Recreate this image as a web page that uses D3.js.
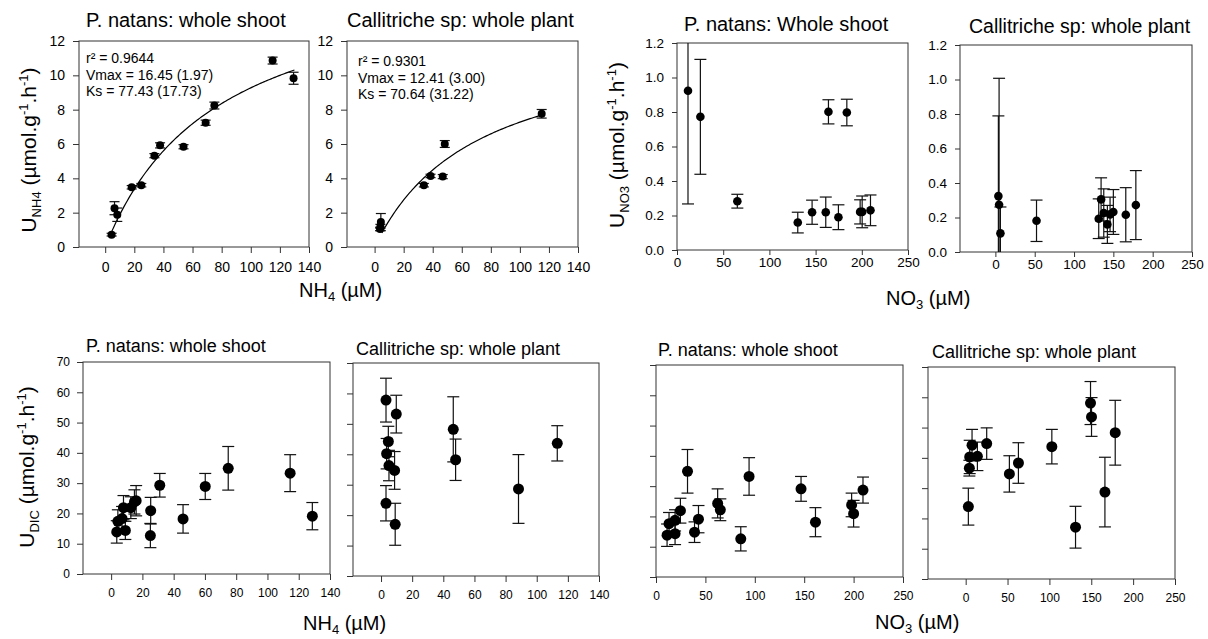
<!DOCTYPE html>
<html>
<head>
<meta charset="utf-8">
<script src="https://cdnjs.cloudflare.com/ajax/libs/d3/7.8.5/d3.min.js"></script>
<style>
body { margin: 0; background: #fff; }
svg text { font-family: Arial, "Liberation Sans", sans-serif; fill: #000; }
.axis path { display: none; }
.axis line { stroke: #333; }
</style>
</head>
<body>
<div id="chart"></div>
<script>
// NH4 uptake
var nh4PnX = [4.4, 6.4, 8.3, 18.2, 24.8, 33.8, 37.7, 53.8, 69, 75, 115, 129.4];
var nh4PnY = [0.72, 2.26, 1.88, 3.48, 3.6, 5.32, 5.92, 5.84, 7.24, 8.24, 10.86, 9.83];
var nh4PnErr = [0.08, 0.38, 0.39, 0.1, 0.1, 0.12, 0.15, 0.12, 0.15, 0.2, 0.2, 0.35];

var nh4CsX = [3.7, 4.0, 4.3, 33.9, 38.5, 46.9, 48.3, 115];
var nh4CsY = [1.05, 1.2, 1.45, 3.6, 4.14, 4.1, 6.0, 7.76];
var nh4CsErr = [0.1, 0.12, 0.5, 0.1, 0.1, 0.12, 0.2, 0.25];

// NO3 uptake
var no3PnX = [11.9, 25.3, 65.3, 130.7, 146.2, 161, 163.9, 174.7, 183.8, 198.2, 200.4, 209.4];
var no3PnY = [0.923, 0.772, 0.283, 0.159, 0.219, 0.219, 0.801, 0.19, 0.797, 0.221, 0.221, 0.23];
var no3PnErr = [0.656, 0.333, 0.04, 0.06, 0.07, 0.088, 0.07, 0.072, 0.077, 0.07, 0.092, 0.089];

var no3CsX = [3.8, 4.7, 6.4, 52.3, 131.4, 134.4, 137.8, 142.4, 145.8, 150, 165.8, 178.6];
var no3CsY = [0.324, 0.274, 0.108, 0.181, 0.193, 0.305, 0.226, 0.16, 0.218, 0.232, 0.216, 0.272];
var no3CsErr = [0.465, 0.733, 0.153, 0.12, 0.115, 0.125, 0.14, 0.11, 0.1, 0.13, 0.157, 0.2];

// DIC uptake vs NH4
var dicNh4PnX = [3.6, 4.3, 7.0, 7.9, 9.1, 12.6, 14.9, 16, 25.3, 25.1, 31.1, 46, 60.2, 74.9, 114.5, 128.7];
var dicNh4PnY = [13.9, 17.4, 18.3, 21.9, 14.4, 21.9, 23.8, 24.2, 20.9, 12.7, 29.3, 18.2, 28.9, 34.9, 33.3, 19.1];
var dicNh4PnErr = [3.7, 3.8, 4, 4, 3, 3.6, 4, 5, 4.4, 4, 3.9, 4.7, 4.3, 7.2, 6.1, 4.5];

var dicNh4CsX = [3.2, 9.8, 4.7, 3.6, 5.1, 8.7, 3.2, 9.1, 46.4, 47.9, 88.3, 113.2];
var dicNh4CsY = [57.8, 53.2, 44.2, 40.2, 36.3, 34.7, 23.9, 17, 48.2, 38.2, 28.6, 43.6];
var dicNh4CsErr = [7.2, 6.2, 5, 5, 5, 6.2, 5.8, 6.9, 10.7, 6.8, 11.3, 5.8];

// DIC uptake vs NO3
var dicNo3PnX = [11.2, 13.2, 19.3, 19.3, 24.7, 31.9, 39, 43, 62.4, 65.1, 85.8, 94.2, 146.8, 161.4, 198, 200, 209.5];
var dicNo3PnY = [13.8, 17.6, 14.3, 18.7, 21.9, 34.9, 14.8, 19.1, 24.3, 22.2, 12.6, 33.2, 29.1, 18.1, 23.8, 20.9, 28.7];
var dicNo3PnErr = [3.7, 3.7, 3.6, 3.5, 4.1, 7.2, 3.4, 4.5, 4.8, 3.6, 4, 6.2, 4.1, 4.8, 3.9, 4.4, 4.3];

var dicNo3CsX = [3.2, 4.4, 4.8, 7.6, 14, 25.1, 52.2, 63, 102.9, 131.2, 149.1, 150.3, 166.3, 178.6];
var dicNo3CsY = [23.9, 36.6, 40.3, 44.2, 40.5, 44.7, 34.7, 38.3, 43.7, 17.1, 58.1, 53.5, 28.7, 48.3];
var dicNo3CsErr = [6.1, 2.6, 5.5, 5.2, 4.7, 5.2, 6, 6.7, 5.7, 6.9, 7.1, 6.4, 11.5, 10.7];

// Michaelis-Menten fits as printed on the chart
var fitPn = {vmax: 16.45, ks: 77.43, from: 4, to: 130};
var fitCs = {vmax: 12.41, ks: 70.64, from: 5, to: 115};
var fitPnText = ["r\u00b2 = 0.9644", "Vmax = 16.45 (1.97)", "Ks = 77.43 (17.73)"];
var fitCsText = ["r\u00b2 = 0.9301", "Vmax = 12.41 (3.00)", "Ks = 70.64 (31.22)"];

var titles = ["P. natans: whole shoot", "Callitriche sp: whole plant", "P. natans: Whole shoot", "Callitriche sp: whole plant",
              "P. natans: whole shoot", "Callitriche sp: whole plant", "P. natans: whole shoot", "Callitriche sp: whole plant"];

var nh4Ticks = [0, 20, 40, 60, 80, 100, 120, 140];
var no3Ticks = [0, 50, 100, 150, 200, 250];
var uTicks = [0, 2, 4, 6, 8, 10, 12];
var no3UTicks = [0, 0.2, 0.4, 0.6, 0.8, 1.0, 1.2];
var dicTicks = [0, 10, 20, 30, 40, 50, 60, 70];

var svg = d3.select("#chart")
    .append("svg")
        .attr("width", 1208)
        .attr("height", 639);

var panels = [
  {x: nh4PnX, y: nh4PnY, e: nh4PnErr, box: [79, 309, 41, 247], xd: [-18, 140], yd: [0, 12], xt: nh4Ticks, yt: uTicks, fmt: d3.format("d"),
   fs: 14, tk: 6, xp: 9, yp: 8, r: 4, cap: 5, fit: fitPn, note: fitPnText, noteX: 86, noteY: 63, tx: 86, ty: 27, ts: 20},
  {x: nh4CsX, y: nh4CsY, e: nh4CsErr, box: [347, 578, 41, 247], xd: [-19, 140], yd: [0, 12], xt: nh4Ticks, yt: uTicks, fmt: d3.format("d"),
   fs: 14, tk: 6, xp: 9, yp: 8, r: 4, cap: 5, fit: fitCs, note: fitCsText, noteX: 358, noteY: 66, tx: 347, ty: 27, ts: 20},
  {x: no3PnX, y: no3PnY, e: no3PnErr, box: [677, 908, 43, 250], xd: [0, 250], yd: [0, 1.2], xt: no3Ticks, yt: no3UTicks, fmt: d3.format(".1f"),
   fs: 13.5, tk: 5, xp: 2, yp: 8, r: 4.3, cap: 6, tx: 684, ty: 31, ts: 20},
  {x: no3CsX, y: no3CsY, e: no3CsErr, box: [960, 1192, 45, 252], xd: [-45, 250], yd: [0, 1.2], xt: no3Ticks, yt: no3UTicks, fmt: d3.format(".1f"),
   fs: 13.5, tk: 5, xp: 2, yp: 8, r: 4.3, cap: 6, tx: 969, ty: 33, ts: 19.5},
  {x: dicNh4PnX, y: dicNh4PnY, e: dicNh4PnErr, box: [83, 330, 362, 574], xd: [-18, 140], yd: [0, 70], xt: nh4Ticks, yt: dicTicks, fmt: d3.format("d"),
   fs: 12, tk: 6, xp: 8, yp: 7, r: 5.5, cap: 6, tx: 86, ty: 352, ts: 18},
  {x: dicNh4CsX, y: dicNh4CsY, e: dicNh4CsErr, box: [353, 599, 363, 576], xd: [-18, 140], yd: [0, 70], xt: nh4Ticks, yt: dicTicks, fmt: null,
   fs: 12, tk: 6, xp: 8, yp: 7, r: 5.5, cap: 6, tx: 356, ty: 355, ts: 18},
  {x: dicNo3PnX, y: dicNo3PnY, e: dicNo3PnErr, box: [656, 903, 365, 577], xd: [0, 250], yd: [0, 70], xt: no3Ticks, yt: dicTicks, fmt: null,
   fs: 12, tk: 6, xp: 8, yp: 7, r: 5.5, cap: 6, tx: 658, ty: 356, ts: 18},
  {x: dicNo3CsX, y: dicNo3CsY, e: dicNo3CsErr, box: [928, 1175, 367, 579], xd: [-45, 250], yd: [0, 70], xt: no3Ticks, yt: dicTicks, fmt: null,
   fs: 12, tk: 6, xp: 8, yp: 7, r: 5.5, cap: 6, tx: 932, ty: 358, ts: 18}
];

panels.forEach(function(p, i) {
    var l = p.box[0], rgt = p.box[1], t = p.box[2], b = p.box[3];
    var x = d3.scaleLinear().domain(p.xd).range([l, rgt]);
    var y = d3.scaleLinear().domain(p.yd).range([b, t]);
    var g = svg.append("g");

    g.append("clipPath").attr("id", "clip" + i)
      .append("rect").attr("x", l).attr("y", t).attr("width", rgt - l).attr("height", b - t);

    var xa = g.append("g")
        .attr("class", "axis")
        .attr("transform", "translate(0," + b + ")")
        .call(d3.axisBottom(x).tickValues(p.xt).tickSize(p.tk).tickPadding(p.xp).tickFormat(d3.format("d")));
    xa.selectAll("text").style("font-size", p.fs + "px").attr("font-family", null);

    var ya = g.append("g")
        .attr("class", "axis")
        .attr("transform", "translate(" + l + ",0)")
        .call(d3.axisLeft(y).tickValues(p.yt).tickSize(p.tk).tickPadding(p.yp).tickFormat(p.fmt ? p.fmt : ""));
    ya.selectAll("text").style("font-size", p.fs + "px").attr("font-family", null);

    g.append("rect")
        .attr("x", l).attr("y", t)
        .attr("width", rgt - l).attr("height", b - t)
        .attr("fill", "none").attr("stroke", "#333").attr("stroke-width", 1);

    g.append("text")
        .attr("x", p.tx).attr("y", p.ty)
        .style("font-size", p.ts + "px")
        .text(titles[i]);

    var marks = g.append("g").attr("clip-path", "url(#clip" + i + ")");
    var idx = d3.range(p.x.length);

    if (p.fit) {
        var f = p.fit;
        marks.append("path")
            .datum(d3.range(f.from, f.to + 0.5, 1))
            .attr("fill", "none").attr("stroke", "#000").attr("stroke-width", 1.2)
            .attr("d", d3.line()
                .x(function(s) { return x(s); })
                .y(function(s) { return y(f.vmax * s / (f.ks + s)); })
            );
    }

    var eb = marks.selectAll(".eb").data(idx).enter().append("g").attr("stroke", "#111").attr("stroke-width", 1.2);
    eb.append("line")
        .attr("x1", function(j) { return x(p.x[j]); })
        .attr("x2", function(j) { return x(p.x[j]); })
        .attr("y1", function(j) { return y(p.y[j] - p.e[j]); })
        .attr("y2", function(j) { return y(p.y[j] + p.e[j]); });
    [-1, 1].forEach(function(sgn) {
        eb.append("line")
            .attr("x1", function(j) { return x(p.x[j]) - p.cap; })
            .attr("x2", function(j) { return x(p.x[j]) + p.cap; })
            .attr("y1", function(j) { return y(p.y[j] + sgn * p.e[j]); })
            .attr("y2", function(j) { return y(p.y[j] + sgn * p.e[j]); });
    });

    marks.selectAll("circle").data(idx).enter().append("circle")
        .attr("cx", function(j) { return x(p.x[j]); })
        .attr("cy", function(j) { return y(p.y[j]); })
        .attr("r", p.r)
        .attr("fill", "#000");

    if (p.note) {
        g.selectAll(".note").data(p.note).enter().append("text")
            .attr("x", p.noteX)
            .attr("y", function(d, k) { return p.noteY + k * 16.5; })
            .style("font-size", "14px")
            .text(function(d) { return d; });
    }
});

// axis titles with sub/superscripts
function yLabel(cx, cy, sub) {
    var txt = svg.append("text")
        .attr("transform", "translate(" + cx + "," + cy + ") rotate(-90)")
        .attr("text-anchor", "middle")
        .style("font-size", "21px");
    txt.append("tspan").text("U");
    txt.append("tspan").attr("dy", 5).style("font-size", "13px").text(sub);
    txt.append("tspan").attr("dy", -5).text(" (\u00b5mol.g");
    txt.append("tspan").attr("dy", -8).style("font-size", "13px").text("-1");
    txt.append("tspan").attr("dy", 8).text(".h");
    txt.append("tspan").attr("dy", -8).style("font-size", "13px").text("-1");
    txt.append("tspan").attr("dy", 8).text(")");
}

function xLabel(x0, y0, name, sub) {
    var txt = svg.append("text")
        .attr("x", x0).attr("y", y0)
        .style("font-size", "20px");
    txt.append("tspan").text(name);
    txt.append("tspan").attr("dy", 4).style("font-size", "13px").text(sub);
    txt.append("tspan").attr("dy", -4).text(" (\u00b5M)");
}

yLabel(36, 150, "NH4");
yLabel(624, 145, "NO3");
yLabel(34, 467, "DIC");

xLabel(299, 297, "NH", "4");
xLabel(886, 305, "NO", "3");
xLabel(303, 630, "NH", "4");
xLabel(875, 629, "NO", "3");
</script>
</body>
</html>
